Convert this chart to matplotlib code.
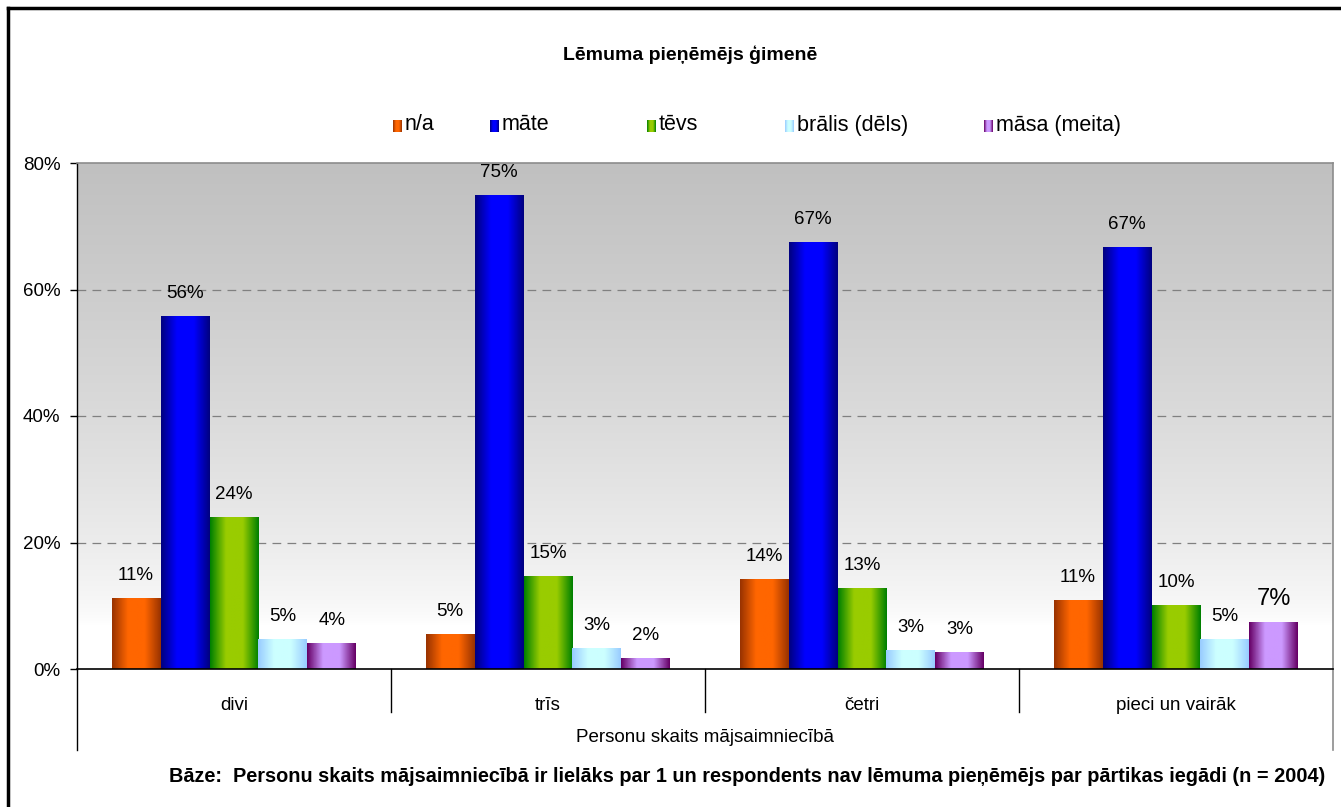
import matplotlib
matplotlib.use('Agg')
import matplotlib.pyplot as plt
import numpy as np
from matplotlib.colors import to_rgb
from matplotlib.lines import Line2D

plt.rcParams['font.family'] = ['Liberation Sans', 'DejaVu Sans']

TITLE = 'Lēmuma pieņēmējs ģimenē'
CATEGORIES = ['divi', 'trīs', 'četri', 'pieci un vairāk']
SERIES = ['n/a', 'māte', 'tēvs', 'brālis (dēls)', 'māsa (meita)']
VAL_NA = [11.2, 5.4, 14.1, 10.9]
VAL_MATE = [55.8, 74.8, 67.4, 66.7]
VAL_TEVS = [23.9, 14.7, 12.8, 10.1]
VAL_BRALIS = [4.6, 3.3, 3.0, 4.6]
VAL_MASA = [4.0, 1.6, 2.6, 7.3]
XLABEL = 'Personu skaits mājsaimniecībā'
NOTE = 'Bāze:  Personu skaits mājsaimniecībā ir lielāks par 1 un respondents nav lēmuma pieņēmējs par pārtikas iegādi (n = 2004)'

# (edge colour, centre colour) for the cylinder-like gradient
GRAD = [('#993300', '#FF6600'), ('#000080', '#0000FF'), ('#008000', '#99CC00'),
        ('#99CCFF', '#CCFFFF'), ('#660066', '#CC99FF')]


def gradient_row(edge, centre, n=64):
    t = np.linspace(0, 1, n)
    f = np.clip(1 - (np.abs(2 * t - 1) - 0.35) / 0.65, 0, 1)
    e = np.array(to_rgb(edge))
    c = np.array(to_rgb(centre))
    return (e[None, :] + (c - e)[None, :] * f[:, None])[None, :, :]


values = [VAL_NA, VAL_MATE, VAL_TEVS, VAL_BRALIS, VAL_MASA]
fig = plt.figure(figsize=(13.41, 8.07), dpi=100)
ax = fig.add_axes([77 / 1341, 1 - 669 / 807, (1333 - 77) / 1341, (669 - 163) / 807])

# plot area background: grey at top fading to white near the bottom
yy = np.linspace(0, 80, 400)
shade = 1 - 0.247 * np.clip((yy - 7) / 73, 0, 1) ** 0.7
bg = shade[:, None, None] * np.ones((1, 1, 3))
ax.imshow(bg, extent=[-0.5, 3.5, 0, 80], origin='lower', aspect='auto', zorder=0)

w = 0.156
x = np.arange(len(CATEGORIES))
for i, (vals, (edge, centre)) in enumerate(zip(values, GRAD)):
    img = gradient_row(edge, centre)
    for xi, v in zip(x, vals):
        x0 = xi + (i - 2) * w - w / 2
        ax.imshow(img, extent=[x0, x0 + w, 0, v], aspect='auto', zorder=3, interpolation='bilinear')
        big = (i == 4 and xi == 3)
        ax.annotate(f'{v:.0f}%', (x0 + w / 2, v), xytext=(0, 16.5 if not big else 17), textcoords='offset points',
                    ha='center', va='center', fontsize=17 if big else 13.5, zorder=4)

ax.set_xlim(-0.5, 3.5)
ax.set_ylim(0, 80)
ax.set_yticks([0, 20, 40, 60, 80])
ax.set_yticklabels([f'{t}%' for t in [0, 20, 40, 60, 80]], fontsize=13.5)
ax.tick_params(axis='y', direction='out', length=5, width=1, pad=7)
for t in [20, 40, 60]:
    ax.axhline(t, color='#808080', lw=0.9, ls=(0, (7, 5)), zorder=1)

ax.set_xticks(x)
ax.set_xticklabels(CATEGORIES, fontsize=13.5)
ax.tick_params(axis='x', length=0, pad=20)

for s in ['top', 'right']:
    ax.spines[s].set_color('#8c8c8c')
    ax.spines[s].set_linewidth(1.2)
ax.spines['left'].set_linewidth(1.0)
ax.spines['bottom'].set_linewidth(1.2)
ax.spines['bottom'].set_zorder(5)

# multi-level category axis separators
trans = ax.get_xaxis_transform()
for xs in [0.5, 1.5, 2.5]:
    ax.plot([xs, xs], [0, -43 / 506], color='black', lw=1, transform=trans, clip_on=False)
ax.plot([-0.5, -0.5], [0, -81 / 506], color='black', lw=1, transform=trans, clip_on=False)
ax.plot([3.5, 3.5], [0, -81 / 506], color='#8c8c8c', lw=1.2, transform=trans, clip_on=False)
ax.text(0.5, -68 / 506, XLABEL, transform=ax.transAxes, ha='center', va='center', fontsize=13.5)

fig.text(690 / 1341, 1 - 55 / 807, TITLE, ha='center', va='center', fontsize=14, fontweight='bold')
fig.text(1325 / 1341, 1 - 777 / 807, NOTE, ha='right', va='center', fontsize=14.3, fontweight='bold')

# legend drawn by hand to keep Excel-like spacing
leg_x = [397, 494, 651, 789, 988]
for name, lx, (edge, centre) in zip(SERIES, leg_x, GRAD):
    lax = fig.add_axes([(lx - 4) / 1341, 1 - 132 / 807, 9 / 1341, 12 / 807])
    lax.imshow(gradient_row(edge, centre), aspect='auto', interpolation='bilinear')
    lax.axis('off')
    fig.text((lx + 8) / 1341, 1 - 125 / 807, name, ha='left', va='center', fontsize=15.5)

# outer chart frame (left and top visible)
fig.add_artist(Line2D([8 / 1341, 8 / 1341], [0, 1 - 8 / 807], color='black', lw=2.5, transform=fig.transFigure))
fig.add_artist(Line2D([8 / 1341, 1], [1 - 8 / 807, 1 - 8 / 807], color='black', lw=2.5, transform=fig.transFigure))

fig.savefig('out.png', dpi=100)
